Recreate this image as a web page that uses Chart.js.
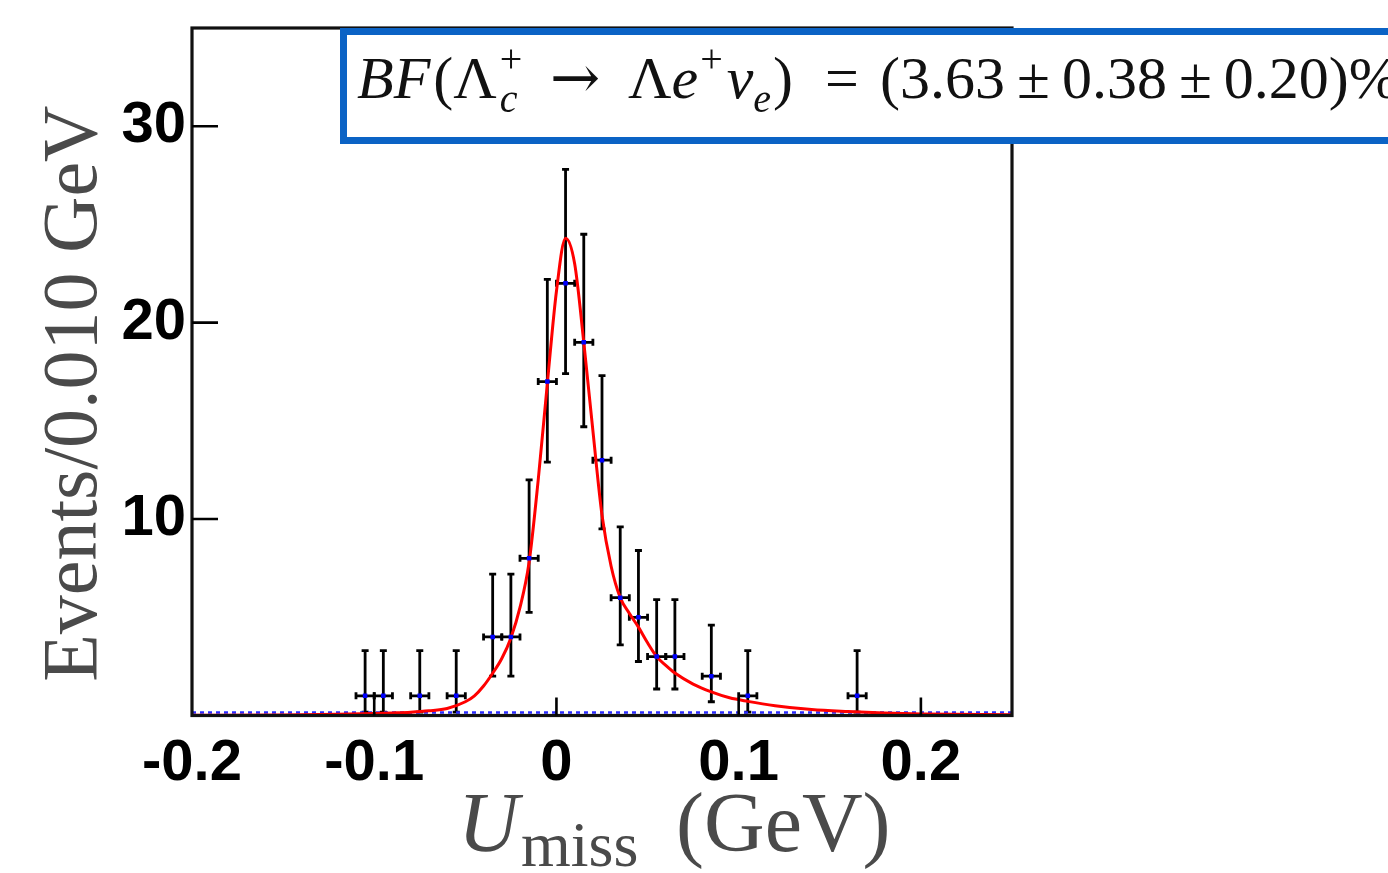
<!DOCTYPE html>
<html><head><meta charset="utf-8">
<script src="https://cdn.jsdelivr.net/npm/chart.js@4.4.1/dist/chart.umd.min.js"></script>
<style>html,body{margin:0;padding:0;background:#fff}#wrap{width:1388px;height:873px;position:relative}</style>
</head><body><div id="wrap"><canvas id="c" width="1388" height="873"></canvas></div>
<script>
// ---- data ----
const binCenters=[-0.105,-0.095,-0.075,-0.055,-0.035,-0.025,-0.015,-0.005,0.005,0.015,0.025,0.035,0.045,0.055,0.065,0.085,0.105,0.165];
const counts=[1,1,1,1,4,4,8,17,22,19,13,6,5,3,3,2,1,1];
const errLow=[0.17,0.17,0.17,0.17,2.0,2.0,5.25,12.9,17.4,14.7,9.5,3.6,2.75,1.35,1.35,0.7,0.17,0.17];
const errHigh=[3.3,3.3,3.3,3.3,7.2,7.2,12.0,22.2,27.8,24.5,17.3,9.6,8.4,5.9,5.9,4.6,3.3,3.3];
const binHalfWidth=0.005;
const fitX=[-0.2,-0.15,-0.12,-0.1,-0.09,-0.08,-0.07,-0.06,-0.05,-0.045,-0.04,-0.035,-0.03,-0.025,-0.02,-0.015,-0.01,-0.005,0,0.005,0.01,0.015,0.02,0.025,0.03,0.035,0.04,0.045,0.05,0.055,0.06,0.065,0.075,0.085,0.095,0.105,0.12,0.14,0.16,0.18,0.2,0.25];
const fitY=[0.01,0.03,0.06,0.1,0.13,0.17,0.24,0.36,0.7,1.0,1.5,2.15,2.9,3.95,5.5,7.8,12.0,16.9,21.6,24.3,23.0,19.0,14.5,10.2,7.6,6.0,5.2,4.5,3.7,3.0,2.55,2.16,1.6,1.2,0.9,0.72,0.5,0.3,0.2,0.13,0.08,0.04];
const bkgX=[-0.2,0.25];
const bkgY=[0.15,0.15];
const xTicks=[-0.2,-0.1,0,0.1,0.2];
const yTicks=[10,20,30];
const xTickMarks=[-0.1,0,0.1,0.2];
const xLimits=[-0.2,0.25];
const yLimits=[0,35];

const serif="'Liberation Serif','Times New Roman',serif";

const pts=binCenters.map((x,i)=>({x:x,y:counts[i]}));
const fit=fitX.map((x,i)=>({x:x,y:fitY[i]}));
const bkg=bkgX.map((x,i)=>({x:x,y:bkgY[i]}));

const errPlugin={
  id:'errbars',
  beforeDatasetsDraw(chart){
    const ctx=chart.ctx, xs=chart.scales.x, ys=chart.scales.y;
    ctx.save();
    ctx.strokeStyle='#000'; ctx.lineWidth=2.8; ctx.lineCap='butt';
    binCenters.forEach((x,i)=>{
      const px=xs.getPixelForValue(x), py=ys.getPixelForValue(counts[i]);
      const pl=ys.getPixelForValue(errLow[i]), ph=ys.getPixelForValue(errHigh[i]);
      const xl=xs.getPixelForValue(x-binHalfWidth), xr=xs.getPixelForValue(x+binHalfWidth);
      ctx.beginPath();
      ctx.moveTo(px,pl); ctx.lineTo(px,ph);
      ctx.moveTo(px-3.5,pl); ctx.lineTo(px+3.5,pl);
      ctx.moveTo(px-3.5,ph); ctx.lineTo(px+3.5,ph);
      ctx.moveTo(xl,py); ctx.lineTo(xr,py);
      ctx.moveTo(xl,py-3.5); ctx.lineTo(xl,py+3.5);
      ctx.moveTo(xr,py-3.5); ctx.lineTo(xr,py+3.5);
      ctx.stroke();
    });
    ctx.restore();
  }
};

const framePlugin={
  id:'frame',
  afterDraw(chart){
    const ctx=chart.ctx, a=chart.chartArea, xs=chart.scales.x, ys=chart.scales.y;
    ctx.save();
    // frame
    ctx.strokeStyle='#111'; ctx.lineWidth=3.2;
    ctx.strokeRect(a.left,a.top,a.right-a.left,a.bottom-a.top);
    // inward ticks
    ctx.lineWidth=2.6; ctx.strokeStyle='#000';
    ctx.beginPath();
    xTickMarks.forEach(v=>{const p=xs.getPixelForValue(v); ctx.moveTo(p,a.bottom); ctx.lineTo(p,a.bottom-18);});
    yTicks.forEach(v=>{const p=ys.getPixelForValue(v); ctx.moveTo(a.left,p); ctx.lineTo(a.left+26,p);});
    ctx.stroke();
    // y title
    ctx.fillStyle='#4a4a4a';
    ctx.save();
    ctx.translate(96,(a.top+a.bottom)/2+22);
    ctx.rotate(-Math.PI/2);
    ctx.font='78px '+serif;
    ctx.textAlign='center'; ctx.textBaseline='alphabetic';
    ctx.fillText('Events/0.010 GeV',0,0);
    ctx.restore();
    // x title
    ctx.textAlign='left'; ctx.textBaseline='alphabetic';
    ctx.font='italic 84px '+serif;
    ctx.fillText('U',458,851);
    ctx.font='64px '+serif;
    ctx.fillText('miss',521,866);
    ctx.font='84px '+serif;
    ctx.fillText('(GeV)',676,851);
    // annotation box
    ctx.fillStyle='#fff';
    ctx.fillRect(341,29,1060,113);
    ctx.strokeStyle='#0b63c5'; ctx.lineWidth=7;
    ctx.strokeRect(343.5,31.5,1060,109);
    // annotation text
    ctx.fillStyle='#111';
    const base=98, F=60, S=40;
    const R=F+'px '+serif, I='italic '+F+'px '+serif, RS=S+'px '+serif, IS='italic '+S+'px '+serif;
    const put=(t,font,x,dy)=>{ctx.font=font; ctx.fillText(t,x,base+(dy||0)); return x+ctx.measureText(t).width;};
    let cx=357;
    cx=put('BF',I,cx);
    cx=put('(',R,cx+3);
    cx=put('\u039B',R,cx);
    put('+',RS,cx+3,-26); put('c',IS,cx+3,14);
    put('\u2192',F+"px 'DejaVu Serif',serif",550);
    cx=put('\u039B',R,628);
    cx=put('e',I,cx);
    cx=put('+',RS,cx+2,-26);
    cx=put('\u03BD',I,cx+4);
    cx=put('e',IS,cx,14);
    put(')',R,cx+2);
    put('=',R,825);
    const g=12;
    cx=put('(3.63',R,880);
    cx=put('\u00B1',R,cx+g);
    cx=put('0.38',R,cx+g);
    cx=put('\u00B1',R,cx+g);
    cx=put('0.20)%',R,cx+g);
    ctx.restore();
  }
};

new Chart(document.getElementById('c'),{
  type:'scatter',
  data:{datasets:[
    {label:'data',data:pts,showLine:false,pointStyle:'rect',pointRadius:3.2,pointBackgroundColor:'#0000ff',pointBorderColor:'#0000ff',pointBorderWidth:0,order:0},
    {label:'fit',data:fit,showLine:true,pointRadius:0,borderColor:'#ff0000',borderWidth:3,cubicInterpolationMode:'monotone',fill:false,order:1},
    {label:'bkg',data:bkg,showLine:true,pointRadius:0,borderColor:'#2a2aff',borderWidth:2.5,borderDash:[4,4],fill:false,order:2}
  ]},
  options:{
    responsive:false,animation:false,
    layout:{padding:{left:0,top:28,right:376,bottom:0}},
    plugins:{legend:{display:false},tooltip:{enabled:false}},
    scales:{
      x:{type:'linear',min:xLimits[0],max:xLimits[1],
        grid:{display:false,drawTicks:false},border:{display:false},
        afterBuildTicks(s){s.ticks=xTicks.map(v=>({value:v}));},
        afterFit(s){s.height=157.5; s.paddingLeft=0; s.paddingRight=0;},
        ticks:{color:'#000',padding:14,maxRotation:0,autoSkip:false,
          font:{family:"'Liberation Sans Narrow','Liberation Sans',Arial,sans-serif",weight:'bold',size:58},
          callback:v=>String(Math.round(v*10)/10)}},
      y:{type:'linear',min:yLimits[0],max:yLimits[1],
        grid:{display:false,drawTicks:false},border:{display:false},
        afterBuildTicks(s){s.ticks=yTicks.map(v=>({value:v}));},
        afterFit(s){s.width=192; s.paddingTop=0; s.paddingBottom=0;},
        ticks:{color:'#000',padding:6,
          font:{family:"'Liberation Sans Narrow','Liberation Sans',Arial,sans-serif",weight:'bold',size:58},
          callback:v=>String(v)}}
    }
  },
  plugins:[errPlugin,framePlugin]
});
</script></body></html>
